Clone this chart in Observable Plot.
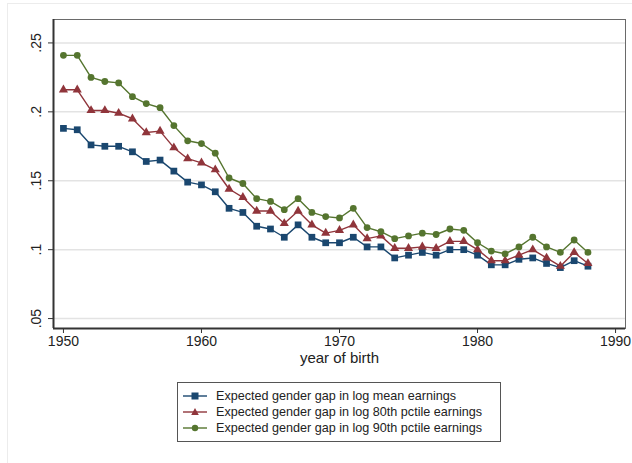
<!DOCTYPE html>
<html>
<head>
<meta charset="utf-8">
<script src="https://cdn.jsdelivr.net/npm/d3@7"></script>
<script src="https://cdn.jsdelivr.net/npm/@observablehq/plot@0.6"></script>
<style>
  html, body { margin: 0; padding: 0; background: #fff; }
  body { width: 632px; height: 463px; position: relative; overflow: hidden; font-family: "Liberation Sans", Arial, sans-serif; }
  #outer { position: absolute; left: 7px; top: 3px; right: 0; bottom: 0; border-top: 1px solid #ececec; border-left: 1px solid #ececec; pointer-events: none; }
  #chart { position: absolute; left: 0; top: 0; }
  #legend { position: absolute; left: 177px; top: 382px; width: 324px; height: 60px; border: 1px solid #555; box-sizing: border-box; padding-top: 5px; }
  .row { display: flex; align-items: center; height: 16px; font-size: 12.6px; color: #222; white-space: nowrap; }
  .row svg { margin-left: 5px; margin-right: 9px; flex: none; }
</style>
</head>
<body>
<div id="outer"></div>
<div id="chart"></div>
<div id="legend"></div>
<script>
const years = [1950,1951,1952,1953,1954,1955,1956,1957,1958,1959,1960,1961,1962,1963,1964,1965,1966,1967,1968,1969,1970,1971,1972,1973,1974,1975,1976,1977,1978,1979,1980,1981,1982,1983,1984,1985,1986,1987,1988];
const gapMean = [.188,.187,.176,.175,.175,.171,.164,.165,.157,.149,.147,.142,.130,.127,.117,.115,.109,.118,.109,.105,.105,.109,.102,.102,.094,.096,.098,.096,.100,.100,.096,.089,.089,.093,.094,.090,.087,.092,.088];
const gap80 = [.216,.216,.201,.201,.199,.195,.185,.186,.174,.166,.163,.158,.144,.138,.128,.128,.119,.128,.118,.112,.114,.118,.108,.110,.101,.101,.102,.101,.106,.106,.100,.092,.092,.096,.100,.094,.088,.098,.090];
const gap90 = [.241,.241,.225,.222,.221,.211,.206,.203,.190,.179,.177,.170,.152,.148,.137,.135,.129,.137,.127,.124,.123,.130,.116,.113,.108,.110,.112,.111,.115,.114,.105,.099,.097,.102,.109,.102,.098,.107,.098];
const seriesNames = ["Expected gender gap in log mean earnings","Expected gender gap in log 80th pctile earnings","Expected gender gap in log 90th pctile earnings"];
const xTicks = [1950,1960,1970,1980,1990];
const yTicks = [0.05,0.10,0.15,0.20,0.25];
const yTickLabels = [".05",".1",".15",".2",".25"];
const xTitle = "year of birth";

const colors = ["#1a476f","#90353b","#55752f"];
const symbols = ["square","triangle","circle"];
const radii = [3.8,3.4,3.4];
const valuesBySeries = [gapMean, gap80, gap90];

const data = [];
valuesBySeries.forEach((vals, s) => vals.forEach((v, i) => data.push({year: years[i], value: v, series: seriesNames[s]})));

const xDom = [1949.28, 1990.72];
const yDom = [0.0428, 0.267];

const marks = [
  Plot.gridY(yTicks, {stroke: "#e3e3e3", strokeOpacity: 1, strokeWidth: 1.5}),
  Plot.frame({stroke: "#6a6a6a", strokeWidth: 1}),
  Plot.ruleX([xDom[0]], {stroke: "#333", strokeWidth: 2}),
  Plot.ruleY([yDom[0]], {stroke: "#333", strokeWidth: 2}),
  Plot.axisX(xTicks, {tickSize: 5, tickPadding: 3, fontSize: 14, stroke: "#333", fill: "#222", label: null, tickFormat: d => String(d)}),
  Plot.axisY(yTicks, {tickSize: 5, stroke: "#333", label: null, tickFormat: () => ""}),
  Plot.text(yTicks, {y: d => d, frameAnchor: "left", text: (d, i) => yTickLabels[i], rotate: -90, dx: -13, lineAnchor: "bottom", textAnchor: "middle", fontSize: 14, fill: "#222"}),
  Plot.text([xTitle], {frameAnchor: "bottom", dy: 34, fontSize: 15, fill: "#222"})
];
seriesNames.forEach((name, s) => {
  const sub = data.filter(d => d.series === name);
  marks.push(Plot.line(sub, {x: "year", y: "value", stroke: colors[s], strokeWidth: 1.4}));
  marks.push(Plot.dot(sub, {x: "year", y: "value", fill: colors[s], stroke: "none", symbol: symbols[s], r: radii[s]}));
});

const chart = Plot.plot({
  width: 632,
  height: 372,
  marginLeft: 53,
  marginRight: 7,
  marginTop: 19,
  marginBottom: 44,
  style: {fontFamily: "'Liberation Sans', Arial, sans-serif", background: "transparent", overflow: "visible"},
  x: {domain: xDom, axis: null},
  y: {domain: yDom, axis: null},
  marks
});
document.getElementById("chart").appendChild(chart);

const legend = document.getElementById("legend");
seriesNames.forEach((name, s) => {
  const row = document.createElement("div");
  row.className = "row";
  let sym;
  if (s === 0) sym = `<rect x="8.5" y="3.5" width="7" height="7" fill="${colors[s]}"/>`;
  else if (s === 1) sym = `<path d="M12 3 L15.8 10 L8.2 10 Z" fill="${colors[s]}"/>`;
  else sym = `<circle cx="12" cy="7" r="3.2" fill="${colors[s]}"/>`;
  row.innerHTML = `<svg width="24" height="14"><line x1="0" y1="7" x2="24" y2="7" stroke="${colors[s]}" stroke-width="1.4"/>${sym}</svg><span>${name}</span>`;
  legend.appendChild(row);
});
</script>
</body>
</html>
